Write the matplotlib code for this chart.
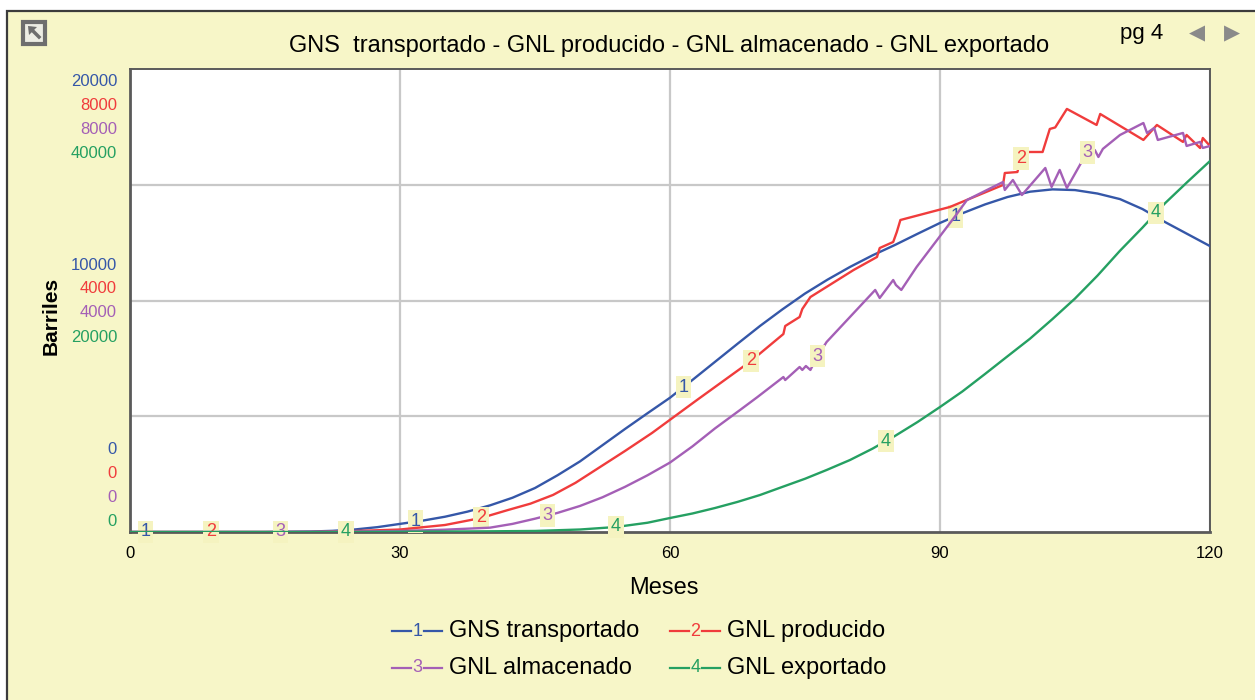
import matplotlib
matplotlib.use('Agg')
import matplotlib.pyplot as plt
import numpy as np
from matplotlib.patches import Rectangle, Polygon
from matplotlib.lines import Line2D

plt.rcParams['font.family'] = ['Liberation Sans', 'DejaVu Sans']

# datos (meses, barriles)
titulo = 'GNS  transportado - GNL producido - GNL almacenado - GNL exportado'
nombres = ['GNS transportado', 'GNL producido', 'GNL almacenado', 'GNL exportado']
colores = ['#3557A8', '#F03C3C', '#A45FB6', '#25A062']
escalas = [20000, 8000, 8000, 40000]

gns_meses = [0, 5, 10, 15, 20, 22.5, 25, 27.5, 30, 32.5, 35, 37.5, 40, 42.5, 45, 47.5, 50, 52.5,
             55, 57.5, 60, 62.5, 65, 67.5, 70, 72.5, 75, 77.5, 80, 82.5, 85, 87.5, 90, 92.5, 95,
             97.5, 100, 102.5, 105, 107.5, 110, 112.5, 115, 117.5, 120]
gns_valores = [0, 0, 0, 0, 20, 50, 110, 210, 350, 490, 660, 880, 1150, 1480, 1900, 2450, 3050,
               3750, 4450, 5130, 5800, 6570, 7350, 8130, 8900, 9620, 10300, 10900, 11450, 11950,
               12400, 12880, 13350, 13770, 14150, 14470, 14700, 14800, 14770, 14620, 14380,
               13950, 13390, 12870, 12350]

prod_meses = [0, 20, 25, 30, 35, 39, 42, 44.5, 47, 49.5, 52, 55, 58, 63, 69, 72.6, 72.8, 74.4,
              74.7, 75.6, 80.4, 83.0, 83.3, 84.8, 85.2, 85.6, 91.1, 97.0, 97.2, 98.6, 99.2, 101.4,
              102.2, 102.8, 104.1, 107.4, 107.8, 112.6, 114.1, 117.0, 117.4, 118.9, 119.2, 120]
prod_valores = [0, 0, 17, 43, 121, 242, 380, 490, 640, 850, 1100, 1400, 1711, 2281, 2955, 3421,
                3559, 3715, 3853, 4060, 4527, 4752, 4907, 5011, 5184, 5391, 5616, 5996, 6203,
                6220, 6566, 6566, 6964, 6990, 7310, 7033, 7223, 6774, 7033, 6740, 6860, 6635,
                6808, 6670]

alm_meses = [0, 15, 20, 25, 30, 35, 40, 42.5, 45, 47.5, 50, 52.5, 55, 57.5, 60, 62.5, 65, 67.8,
             69.7, 72.6, 72.8, 74.4, 74.7, 75.1, 75.6, 76.4, 77.4, 82.8, 83.3, 84.8, 85.1, 85.7,
             87.4, 91.7, 93, 97, 97.2, 98.1, 99.1, 101.7, 102.4, 103.3, 104.1, 106.3, 107.2,
             107.6, 108.1, 110, 112.6, 113, 113.8, 114.2, 117, 117.4, 118.9, 119.2, 120]
alm_valores = [0, 0, 5, 10, 17, 40, 75, 140, 230, 330, 450, 600, 780, 980, 1200, 1480, 1790,
               2110, 2330, 2678, 2626, 2851, 2800, 2868, 2800, 3040, 3283, 4182, 4043, 4354,
               4268, 4182, 4579, 5460, 5737, 6048, 5910, 6082, 5823, 6290, 5962, 6256, 5944,
               6549, 6600, 6480, 6620, 6860, 7067, 6895, 6981, 6774, 6895, 6670, 6740, 6636,
               6670]

exp_meses = [0, 25, 30, 35, 40, 45, 50, 54, 57.5, 60, 62.5, 65, 67.5, 70, 72.5, 75, 77.4, 80, 82.5,
             85, 87.5, 90, 92.5, 95, 97.5, 100, 102.5, 105, 107.5, 110, 112.5, 115, 117.5, 120]
exp_valores = [0, 0, 20, 40, 60, 90, 216, 432, 800, 1209, 1600, 2073, 2600, 3196, 3900, 4600,
               5356, 6220, 7200, 8300, 9500, 10799, 12150, 13650, 15180, 16700, 18400, 20170,
               22150, 24300, 26300, 28400, 30250, 32050]

# meses donde van las etiquetas numericas de cada curva
etiquetas_meses = [[1.7, 31.7, 61.5, 91.7], [9, 39, 69, 99], [16.7, 46.4, 76.4, 106.4],
                   [24, 54, 84, 114]]

series = [(gns_meses, gns_valores), (prod_meses, prod_valores),
          (alm_meses, alm_valores), (exp_meses, exp_valores)]

W, H = 1255, 700
fondo = '#F7F6C8'
fig = plt.figure(figsize=(W / 100, H / 100), dpi=100, facecolor='white')

def fx(px):
    return px / W

def fy(py):
    return 1 - py / H

# panel amarillo con borde
fig.add_artist(Rectangle((fx(7), -0.02), 1.05, fy(11) + 0.02, transform=fig.transFigure,
                         facecolor=fondo, edgecolor='#3c3c3c', lw=1.6, zorder=0))

ax = fig.add_axes([fx(130), fy(532), fx(1210) - fx(130), fy(69) - fy(532)])
ax.set_facecolor('white')
ejes = [ax] + [ax.twinx() for _ in range(3)]

for i, (a, (m, v)) in enumerate(zip(ejes, series)):
    a.plot(m, v, color=colores[i], lw=1.7, zorder=3 + i)
    a.set_ylim(0, escalas[i])
    a.set_xlim(0, 120)
    if i > 0:
        a.set_yticks([])
        for s in a.spines.values():
            s.set_visible(False)
    for mm in etiquetas_meses[i]:
        a.text(mm, np.interp(mm, m, v), str(i + 1), color=colores[i], fontsize=13,
               ha='center', va='center', zorder=10,
               bbox=dict(boxstyle='square,pad=0.15', fc='#F5F3C0', ec='none'))

ax.set_xticks([0, 30, 60, 90, 120])
ax.set_xticklabels(['0', '30', '60', '90', '120'], fontsize=12)
ax.set_yticks([5000, 10000, 15000])
ax.set_yticklabels([])
ax.tick_params(length=0, pad=10)
ax.grid(True, color='#C8C8C8', lw=1.6)
ax.set_axisbelow(True)
for s in ax.spines.values():
    s.set_color('#5a5a5a')
    s.set_linewidth(1.4)
ax.spines['left'].set_linewidth(2)
ax.spines['bottom'].set_linewidth(2)

# etiquetas de escala por serie (arriba, medio, abajo)
grupos = [(81, 1.0), (265, 0.5), (449, 0.0)]
for y0, frac in grupos:
    for i in range(4):
        ypx = y0 + 24 * i
        fig.text(fx(117), fy(ypx), f'{escalas[i] * frac:.0f}', color=colores[i],
                 fontsize=12, ha='right', va='center')

fig.text(fx(669), fy(46), titulo, fontsize=17, ha='center', va='center')
fig.text(fx(51), fy(316), 'Barriles', fontsize=15, fontweight='bold', rotation=90,
         ha='center', va='center')
fig.text(fx(664), fy(588), 'Meses', fontsize=17, ha='center', va='center')

# icono y navegacion
fig.add_artist(Rectangle((fx(23), fy(44)), fx(22), fy(22) - fy(44), transform=fig.transFigure,
                         facecolor='#EDEDE4', edgecolor='#6E6E6E', lw=3, zorder=2))
fig.add_artist(Line2D([fx(39), fx(31)], [fy(37), fy(29)], color='#6E6E6E', lw=2.5,
                      transform=fig.transFigure, zorder=3))
fig.add_artist(Polygon([(fx(28), fy(26)), (fx(37), fy(27)), (fx(29), fy(35))], closed=True,
                       transform=fig.transFigure, facecolor='#6E6E6E', edgecolor='none',
                       zorder=3))
fig.text(fx(1142), fy(33), 'pg 4', fontsize=16, ha='center', va='center')
fig.text(fx(1197), fy(33), '◀', fontsize=15, color='#8a8a8a', ha='center', va='center',
         family='DejaVu Sans')
fig.text(fx(1232), fy(33), '▶', fontsize=15, color='#8a8a8a', ha='center', va='center',
         family='DejaVu Sans')

# leyenda
pos_leyenda = [(392, 631), (670, 631), (392, 668), (670, 668)]
for i, (x0, y0) in enumerate(pos_leyenda):
    fig.add_artist(Line2D([fx(x0), fx(x0 + 19)], [fy(y0), fy(y0)], color=colores[i], lw=1.6,
                          transform=fig.transFigure))
    fig.add_artist(Line2D([fx(x0 + 32), fx(x0 + 50)], [fy(y0), fy(y0)], color=colores[i], lw=1.6,
                          transform=fig.transFigure))
    fig.text(fx(x0 + 25.5), fy(y0), str(i + 1), color=colores[i], fontsize=13,
             ha='center', va='center')
    fig.text(fx(x0 + 57), fy(y0), nombres[i], fontsize=17, ha='left', va='center')

fig.savefig('out.png', dpi=100, facecolor='white')
